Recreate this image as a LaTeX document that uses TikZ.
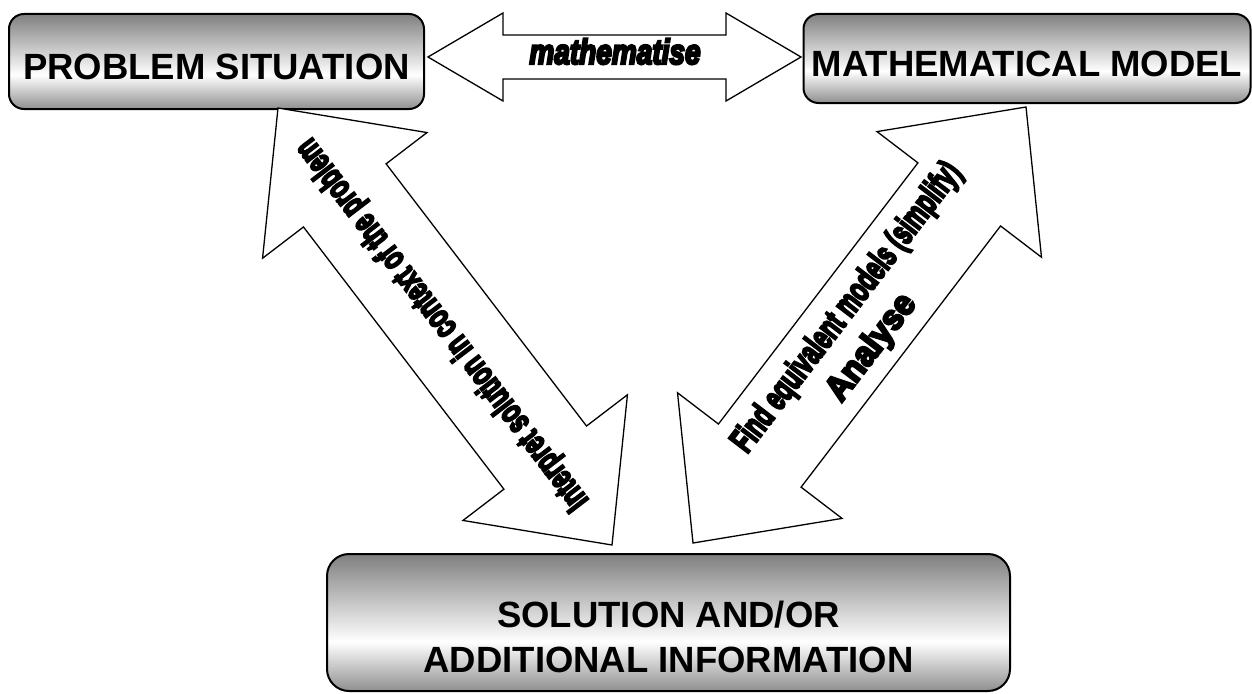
\documentclass[tikz,border=0pt]{standalone}
\usepackage{graphicx}
\usepackage{fontspec}
\setmainfont{Liberation Sans}
\newfontfamily\heavyfont{Liberation Sans Bold}[FakeBold=7]
\newfontfamily\heavyitfont{Liberation Sans Bold Italic}[FakeBold=7]
\usetikzlibrary{calc}
\definecolor{shtop}{gray}{0.5}
\definecolor{shbot}{gray}{0.56}
\pgfdeclareverticalshading{boxshade}{100bp}{color(0bp)=(shbot); color(25bp)=(shbot); color(43bp)=(white); color(75bp)=(shtop); color(100bp)=(shtop)}
\tikzset{
  sitbox/.style={draw=black, line width=2pt, shading=boxshade, inner sep=0pt,
    font=\fontsize{36.5}{45}\selectfont\bfseries},
  blockarrow/.style={draw=black, fill=white, line width=1.3pt, line join=miter},
  arrowtext/.style={inner sep=0pt, font=\fontsize{35}{35}\selectfont\heavyfont},
}
% double-headed block arrow: tip1, tip2, head length, head half width, shaft half width, name prefix
\newcommand\dblblockarrow[6]{%
  \coordinate (#6a) at ($(#1)!#3!(#2)$);
  \coordinate (#6b) at ($(#2)!#3!(#1)$);
  \draw[blockarrow] (#1) -- ($(#6a)!#4!90:(#2)$) -- ($(#6a)!#5!90:(#2)$)
    -- ($(#6b)!#5!-90:(#1)$) -- ($(#6b)!#4!-90:(#1)$) -- (#2)
    -- ($(#6b)!#4!90:(#1)$) -- ($(#6b)!#5!90:(#1)$)
    -- ($(#6a)!#5!-90:(#2)$) -- ($(#6a)!#4!-90:(#2)$) -- cycle;}
\begin{document}
\begin{tikzpicture}[x=1pt,y=1pt]
\fill[white] (0,0) rectangle (1252,-693);
\useasboundingbox (0,0) rectangle (1252,-693);

% boxes
\node[sitbox, rounded corners=15pt, minimum width=415pt, minimum height=95pt] (ps) at (216.5,-61.5)
  {\raisebox{0pt}[36pt][0pt]{PROBLEM SITUATION}};
\node[sitbox, rounded corners=15pt, minimum width=447pt, minimum height=89pt] (mm) at (1027,-58.5)
  {\raisebox{0pt}[36pt][0pt]{MATHEMATICAL MODEL}};
\node[sitbox, rounded corners=22pt, minimum width=683pt, minimum height=137pt] (sol) at (668.5,-622.5)
  {\raisebox{0pt}[99pt][0pt]{\begin{tabular}[b]{@{}c@{}}SOLUTION AND/OR\\ADDITIONAL INFORMATION\end{tabular}}};

% arrow tips
\coordinate (mL) at (428,-57);
\coordinate (mR) at (801,-57);
\coordinate (lT) at (278,-108);
\coordinate (lB) at (612,-545);
\coordinate (rT) at (1026,-107);
\coordinate (rB) at (693,-543);

\dblblockarrow{mL}{mR}{75pt}{44pt}{22pt}{ma}
\dblblockarrow{lT}{lB}{110pt}{103.5pt}{52pt}{la}
\dblblockarrow{rT}{rB}{110pt}{103.5pt}{52pt}{ra}

% arrow labels
\node[inner sep=0pt, anchor=base, font=\fontsize{35}{35}\selectfont\heavyitfont] (mtext) at (615,-64)
  {\scalebox{0.8}[1]{mathematise}};
\node[arrowtext, rotate=127.4] (itext) at (443,-324)
  {\scalebox{0.64}[1]{Interpret solution in context of the problem}};
\node[arrowtext, rotate=52.6] (ftext) at (847.5,-308)
  {\scalebox{0.64}[1]{Find equivalent models (simplify)}};
\node[arrowtext, rotate=52.6] (atext) at (872,-348)
  {\scalebox{0.93}[1]{Analyse}};
\end{tikzpicture}
\end{document}
